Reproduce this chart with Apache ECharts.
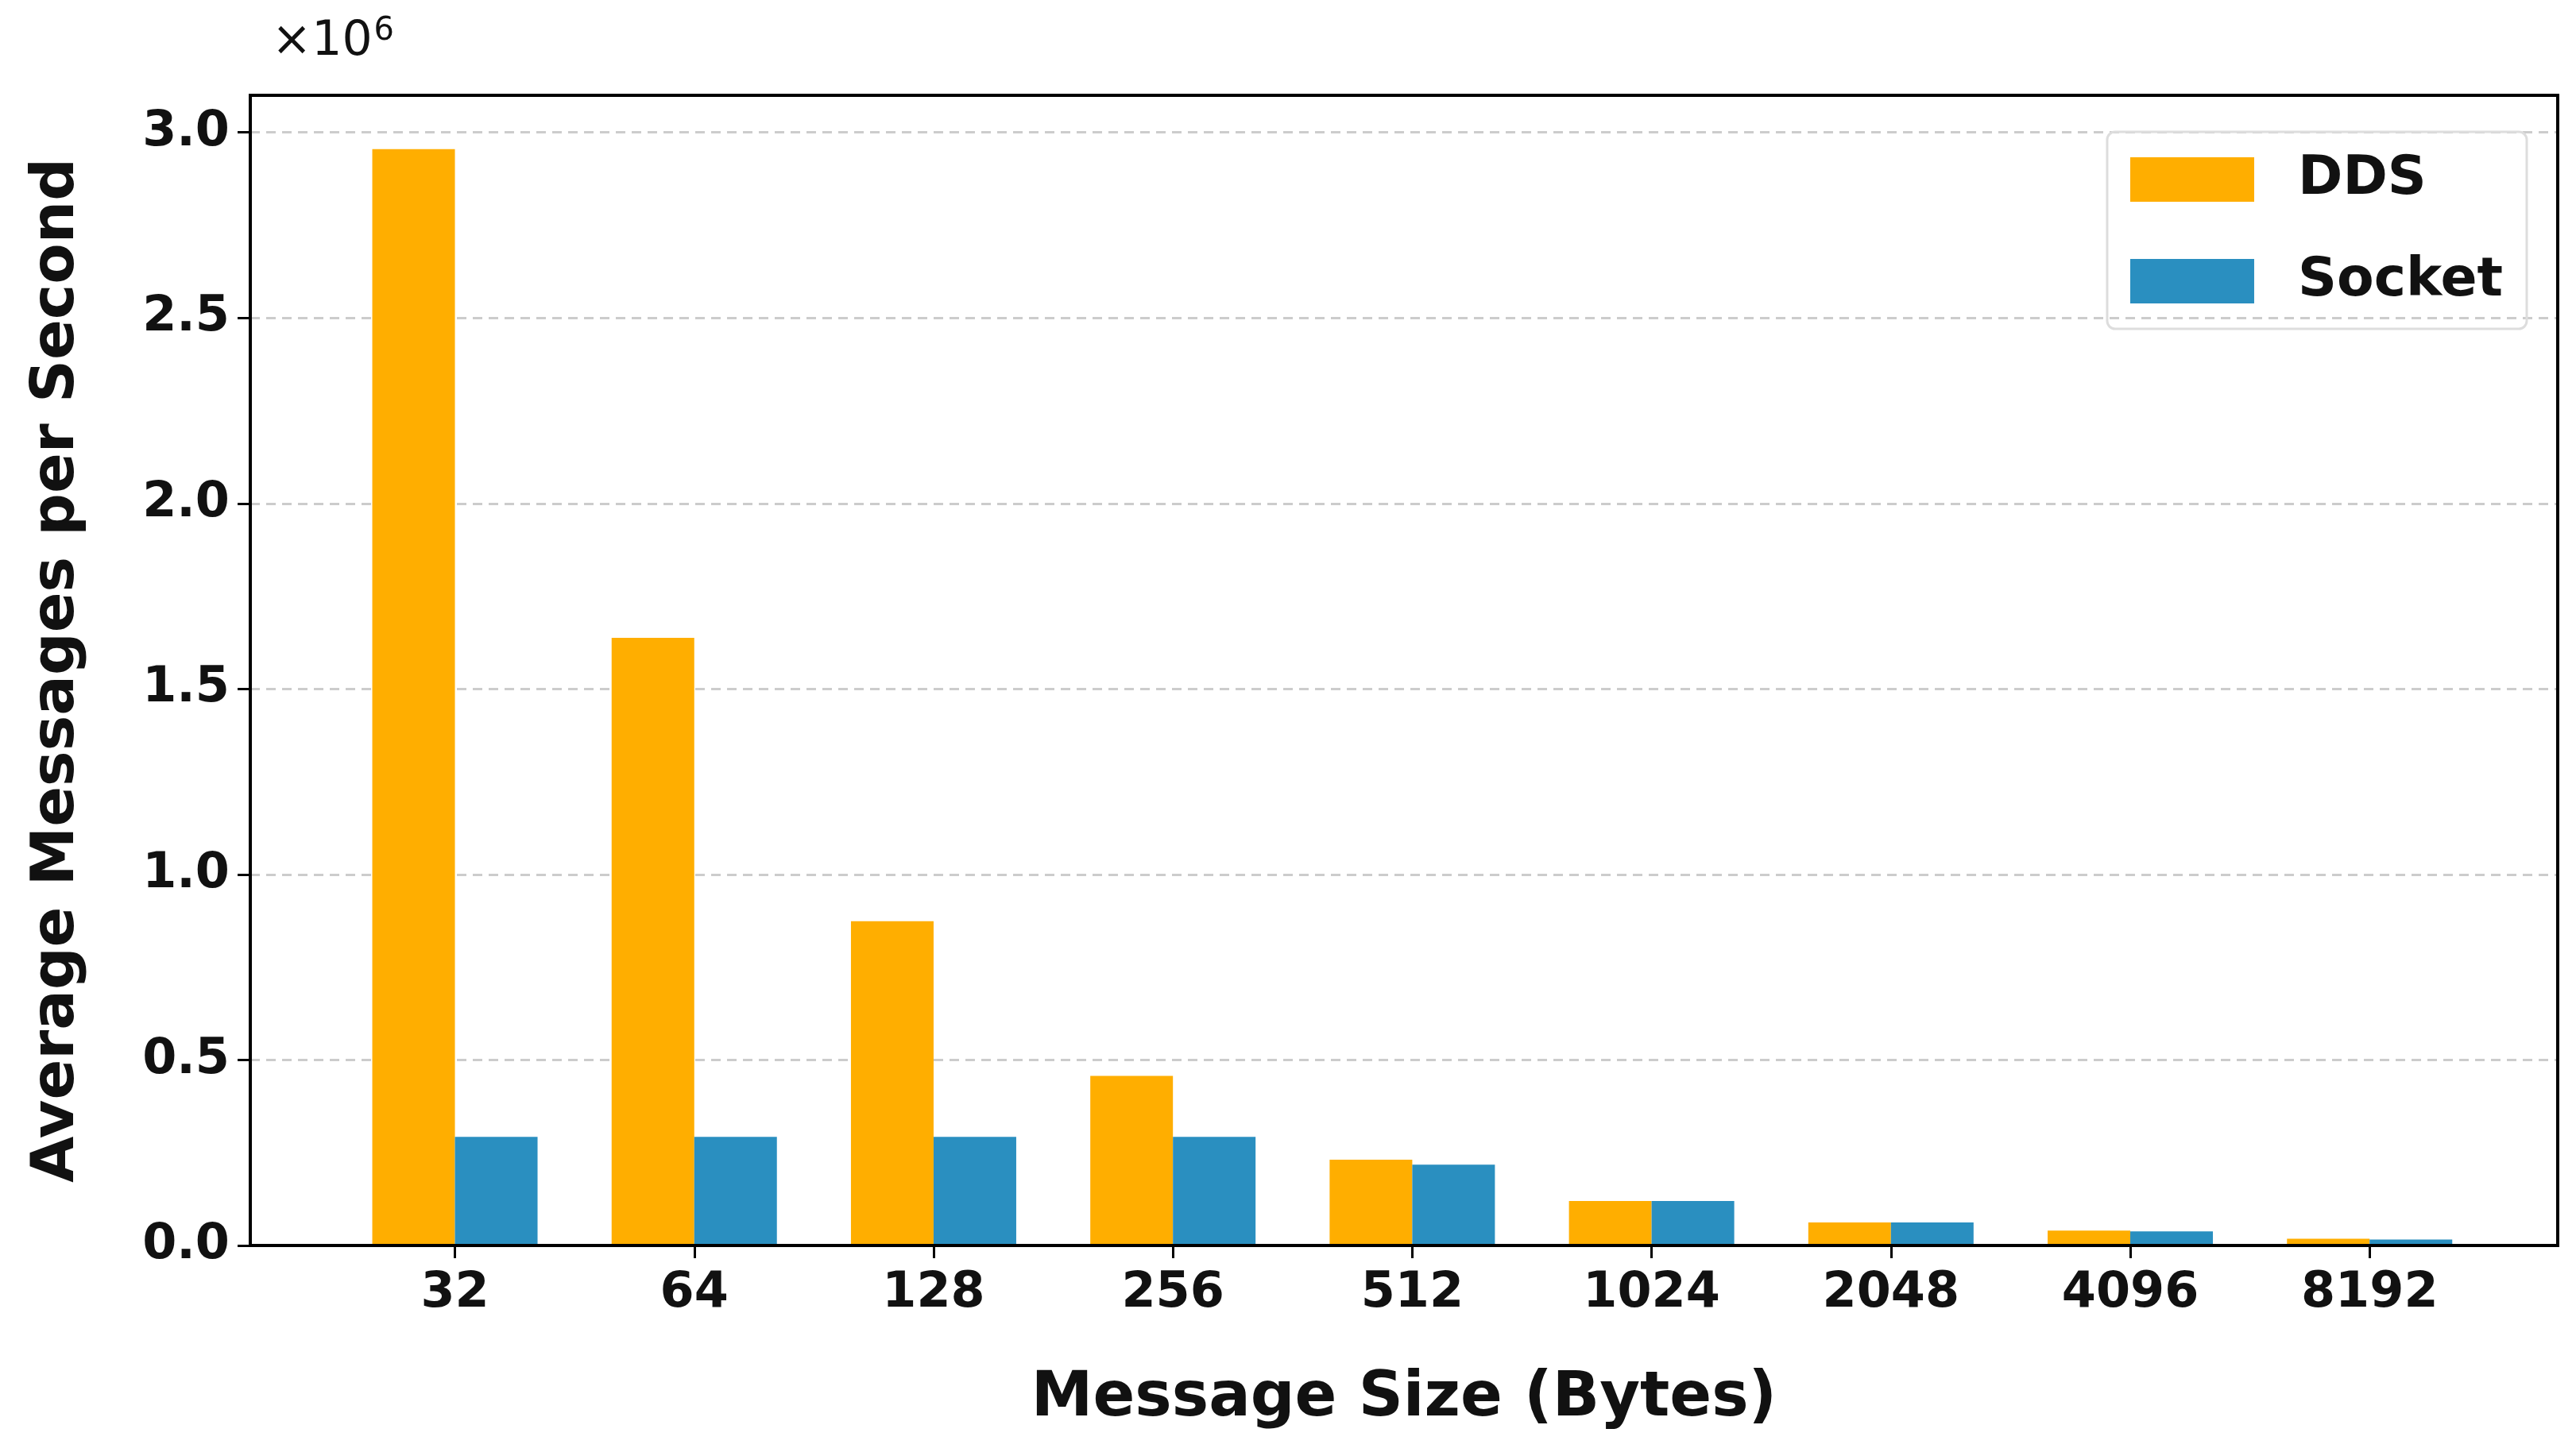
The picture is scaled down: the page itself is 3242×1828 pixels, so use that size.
<!DOCTYPE html>
<html>
<head>
<meta charset="utf-8">
<script src="https://cdn.jsdelivr.net/npm/echarts@6/dist/echarts.min.js"></script>
<style>html,body{margin:0;padding:0;background:#fff}#main{width:3242px;height:1828px}</style>
</head>
<body>
<div id="main"></div>
<script>
var categories = ['32', '64', '128', '256', '512', '1024', '2048', '4096', '8192'];
var ddsValues = [2.955, 1.638, 0.874, 0.457, 0.231, 0.120, 0.062, 0.040, 0.018];
var socketValues = [0.293, 0.293, 0.293, 0.293, 0.218, 0.120, 0.062, 0.038, 0.016];

var chart = echarts.init(document.getElementById('main'));
var font = 'DejaVu Sans';

function pairs(vals) {
  return vals.map(function (v, i) { return [i, v]; });
}

var option = {
  animation: false,
  textStyle: { fontFamily: font },
  grid: { left: 315, right: 23, top: 120, bottom: 260, show: true, borderColor: '#000', borderWidth: 4, z: 5 },
  legend: {
    right: 62, top: 166,
    orient: 'vertical',
    icon: 'rect',
    itemWidth: 156, itemHeight: 56, itemGap: 60,
    padding: [26, 30, 26, 29],
    borderColor: '#dddddd', borderWidth: 3, borderRadius: 10,
    textStyle: { fontFamily: font, fontWeight: 'bold', fontSize: 68, color: '#111', padding: [0, 0, 0, 50] },
    data: ['DDS', 'Socket']
  },
  xAxis: {
    type: 'value',
    min: -0.855, max: 8.786,
    name: 'Message Size (Bytes)',
    nameLocation: 'middle', nameGap: 155,
    nameTextStyle: { fontFamily: font, fontWeight: 'bold', fontSize: 78, color: '#111' },
    splitLine: { show: false },
    axisLine: { onZero: false, lineStyle: { color: '#000', width: 4 } },
    axisTick: { show: true, length: 16, lineStyle: { color: '#000', width: 3 }, customValues: [0, 1, 2, 3, 4, 5, 6, 7, 8] },
    axisLabel: {
      customValues: [0, 1, 2, 3, 4, 5, 6, 7, 8],
      margin: 30,
      fontFamily: font, fontWeight: 'bold', fontSize: 62, color: '#111',
      formatter: function (v) { return categories[Math.round(v)]; }
    }
  },
  yAxis: {
    type: 'value',
    min: 0, max: 3.1, interval: 0.5,
    name: 'Average Messages per Second',
    nameLocation: 'middle', nameGap: 205,
    nameTextStyle: { fontFamily: font, fontWeight: 'bold', fontSize: 75, color: '#111' },
    axisLine: { show: true, onZero: false, lineStyle: { color: '#000', width: 4 } },
    axisTick: { show: true, length: 16, lineStyle: { color: '#000', width: 3 } },
    axisLabel: {
      margin: 26,
      fontFamily: font, fontWeight: 'bold', fontSize: 62, color: '#111',
      formatter: function (v) { return v.toFixed(1); }
    },
    splitLine: { showMinLine: false, showMaxLine: false, lineStyle: { color: '#cccccc', width: 3, type: [12, 8] } }
  },
  series: [
    { name: 'DDS', type: 'bar', data: pairs(ddsValues), barWidth: 104, barGap: '0%',
      itemStyle: { color: '#ffae00' }, z: 3 },
    { name: 'Socket', type: 'bar', data: pairs(socketValues), barWidth: 104, barGap: '0%',
      itemStyle: { color: '#2a8fc0' }, z: 3 }
  ],
  graphic: [{
    type: 'text', left: 342, top: 20,
    style: {
      text: '×10{s|6}',
      font: '60px "DejaVu Sans"', fill: '#111',
      rich: { s: { fontSize: 40, fontFamily: font, verticalAlign: 'top', padding: [0, 0, 26, 2] } }
    }
  }]
};
chart.setOption(option);
</script>
</body>
</html>
